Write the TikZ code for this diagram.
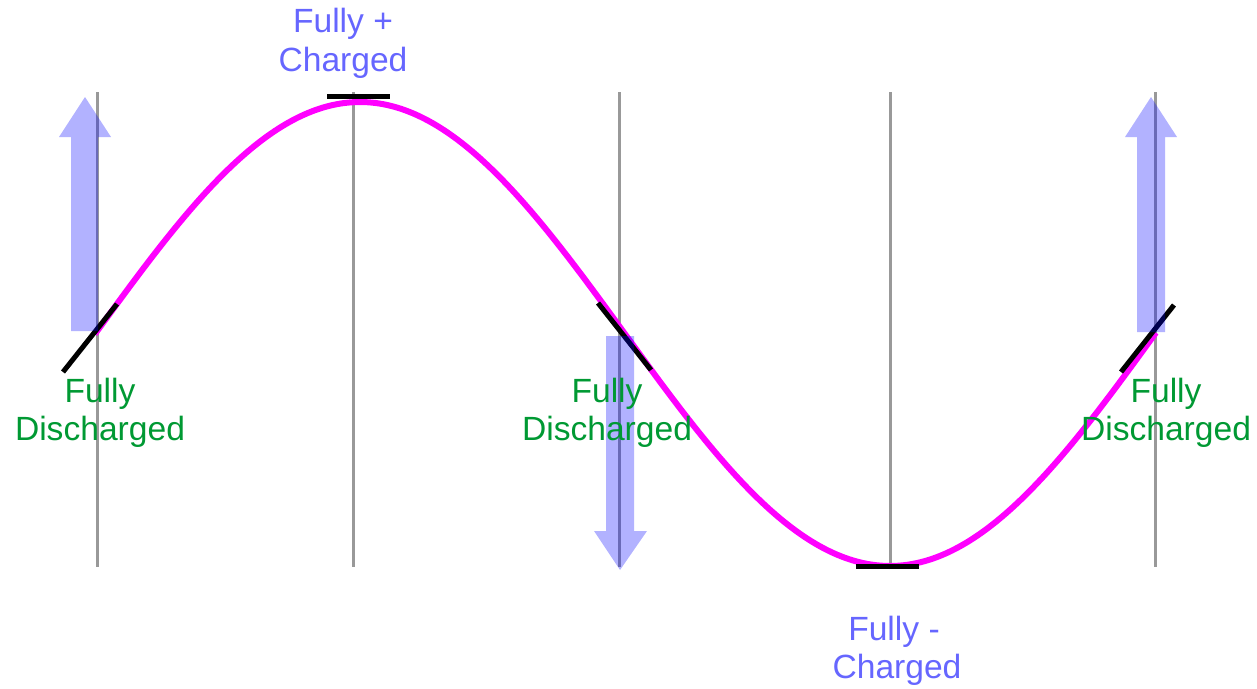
\documentclass[tikz,border=0pt]{standalone}
\usepackage{fontspec}
\setmainfont{Liberation Sans}
\definecolor{lblue}{HTML}{6666FF}
\definecolor{lgreen}{HTML}{009933}
\definecolor{lgray}{HTML}{999999}
\definecolor{wavemag}{HTML}{FF00FF}
\definecolor{arrblue}{HTML}{0000FF}
\begin{document}
\begin{tikzpicture}[x=1pt,y=-1pt,
  grid/.style={draw=lgray,line width=3pt},
  wave/.style={draw=wavemag,line width=6pt},
  tang/.style={draw=black,line width=5pt},
  barrow/.style={fill=arrblue,fill opacity=0.3,draw=none},
  lbl/.style={font=\fontsize{33.6}{38}\selectfont,inner sep=0pt,anchor=base},
  bl/.style={lbl,text=lblue},
  gl/.style={lbl,text=lgreen}]
\useasboundingbox (0,0) rectangle (1257,688);
% vertical lines
\foreach \x in {97,353,619,890,1155}
  \draw[grid] (\x,92) -- (\x,567);
% wave
\draw[wave] plot[domain=95:1156,samples=240,smooth] (\x,{334-232*sin((\x-95)/1060*360)});
% tangents
\coordinate (t1a) at (63,372); \coordinate (t1b) at (117,304);
\coordinate (t2a) at (327,96); \coordinate (t2b) at (390,96);
\coordinate (t3a) at (598,303); \coordinate (t3b) at (651,370);
\coordinate (t4a) at (856,566); \coordinate (t4b) at (919,566);
\coordinate (t5a) at (1121,372); \coordinate (t5b) at (1174,305);
\draw[tang] (t1a) -- (t1b);
\draw[tang] (t2a) -- (t2b);
\draw[tang] (t3a) -- (t3b);
\draw[tang] (t4a) -- (t4b);
\draw[tang] (t5a) -- (t5b);
% block arrows
\fill[barrow] (71,331) -- (71,137) -- (59,137) -- (85,97) -- (111,137) -- (98,137) -- (98,331) -- cycle;
\fill[barrow] (606,336) -- (606,531) -- (594,531) -- (620,570) -- (647,531) -- (634,531) -- (634,336) -- cycle;
\fill[barrow] (1137,332) -- (1137,137) -- (1125,137) -- (1151,97) -- (1177,137) -- (1165,137) -- (1165,332) -- cycle;
% labels
\node[bl] (p1) at (343,32) {Fully +};
\node[bl] (p2) at (343,71) {Charged};
\node[bl] (m1) at (894,640) {Fully -};
\node[bl] (m2) at (897,678) {Charged};
\node[gl] (a1) at (100,402) {Fully};
\node[gl] (a2) at (100,440) {Discharged};
\node[gl] (b1) at (607,402) {Fully};
\node[gl] (b2) at (607,440) {Discharged};
\node[gl] (c1) at (1166,402) {Fully};
\node[gl] (c2) at (1166,440) {Discharged};
\end{tikzpicture}
\end{document}
